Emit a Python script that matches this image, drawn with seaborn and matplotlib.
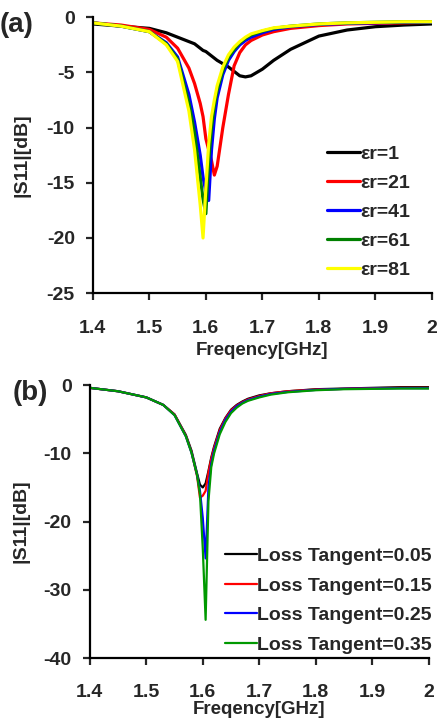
import numpy as np
import pandas as pd
import matplotlib
matplotlib.use('Agg')
import matplotlib.pyplot as plt
import seaborn as sns

# frequency grid (GHz) shared by all curves
freq = [1.40, 1.45, 1.50, 1.53, 1.55, 1.57, 1.58, 1.59, 1.595, 1.60, 1.605, 1.61, 1.615, 1.62,
        1.63, 1.64, 1.65, 1.66, 1.67, 1.68, 1.70, 1.72, 1.75, 1.80, 1.85, 1.90, 1.95, 2.00]

# panel (a): permittivity sweep
er_labels = ['εr=1', 'εr=21', 'εr=41', 'εr=61', 'εr=81']
s11_er1 = [-0.6, -0.8, -1.0, -1.4, -1.8, -2.2, -2.4, -2.8, -3.0, -3.1, -3.3, -3.5, -3.7, -3.9,
           -4.2, -4.5, -4.9, -5.3, -5.4, -5.3, -4.7, -3.9, -2.9, -1.7, -1.15, -0.85, -0.7, -0.6]
s11_er21 = [-0.5, -0.7, -1.1, -1.8, -2.8, -4.6, -6.0, -7.8, -9.0, -11.0, -12.0, -13.0, -14.3, -13.5,
            -10.0, -7.0, -4.4, -3.2, -2.5, -2.1, -1.6, -1.3, -1.0, -0.75, -0.6, -0.55, -0.5, -0.45]
s11_er41 = [-0.5, -0.8, -1.3, -2.3, -3.6, -7.0, -9.5, -12.5, -14.5, -15.8, -16.6, -12.0, -9.2, -7.3,
            -5.2, -3.9, -3.1, -2.5, -2.1, -1.8, -1.4, -1.1, -0.85, -0.65, -0.55, -0.5, -0.45, -0.45]
s11_er61 = [-0.5, -0.8, -1.3, -2.4, -3.8, -7.8, -10.5, -14.5, -16.5, -17.8, -13.0, -10.0, -8.0, -6.6,
            -4.8, -3.6, -2.9, -2.3, -1.9, -1.6, -1.25, -1.0, -0.8, -0.6, -0.5, -0.45, -0.4, -0.4]
s11_er81 = [-0.5, -0.8, -1.3, -2.5, -4.0, -8.5, -12.0, -17.0, -20.0, -15.5, -11.5, -9.0, -7.5, -6.2,
            -4.5, -3.4, -2.7, -2.2, -1.8, -1.5, -1.2, -0.95, -0.8, -0.6, -0.5, -0.45, -0.4, -0.4]

# panel (b): loss tangent sweep
lt_labels = ['Loss Tangent=0.05', 'Loss Tangent=0.15', 'Loss Tangent=0.25', 'Loss Tangent=0.35']
s11_lt05 = [-0.4, -0.9, -1.8, -2.9, -4.3, -7.3, -9.6, -13.0, -14.6, -15.0, -14.4, -12.6, -10.6, -9.0,
            -6.4, -4.8, -3.6, -2.9, -2.4, -2.0, -1.5, -1.2, -0.9, -0.6, -0.5, -0.4, -0.3, -0.3]
s11_lt15 = [-0.4, -0.9, -1.8, -2.9, -4.3, -7.4, -9.8, -13.4, -16.5, -16.2, -15.5, -12.8, -10.8, -9.2,
            -6.6, -4.9, -3.7, -3.0, -2.5, -2.1, -1.6, -1.2, -0.9, -0.65, -0.55, -0.45, -0.4, -0.4]
s11_lt25 = [-0.4, -0.9, -1.8, -2.9, -4.4, -7.5, -9.9, -13.2, -15.5, -19.5, -25.4, -15.0, -11.5, -9.6,
            -6.9, -5.1, -3.9, -3.1, -2.6, -2.2, -1.7, -1.3, -1.0, -0.7, -0.55, -0.5, -0.45, -0.45]
s11_lt35 = [-0.4, -0.9, -1.8, -2.9, -4.4, -7.5, -9.9, -13.2, -16.0, -24.0, -34.4, -17.0, -12.0, -10.0,
            -7.2, -5.4, -4.1, -3.3, -2.7, -2.3, -1.8, -1.4, -1.05, -0.75, -0.6, -0.55, -0.5, -0.5]

colors_a = ['black', '#ff0000', '#0000ff', '#008000', '#ffff00']
colors_b = ['black', '#ff0000', '#0000ff', '#009900']

xticks = [1.4, 1.5, 1.6, 1.7, 1.8, 1.9, 2.0]
xticklabels = ['1.4', '1.5', '1.6', '1.7', '1.8', '1.9', '2']

sns.set_style('ticks')
plt.rcParams['font.family'] = ['Liberation Sans', 'DejaVu Sans']
plt.rcParams['font.weight'] = 'bold'
plt.rcParams['axes.unicode_minus'] = False

fig = plt.figure(figsize=(4.38, 7.22), dpi=100)
ax1 = fig.add_axes([0.212, 0.594, 0.774, 0.382])
ax2 = fig.add_axes([0.205, 0.0886, 0.774, 0.378])


def style_axes(ax, yticks, ylim, xlab_y, ylab_x):
    ax.set_xlim(1.4, 2.0)
    ax.set_ylim(*ylim)
    ax.set_xticks(xticks)
    ax.set_xticklabels(xticklabels)
    ax.set_yticks(yticks)
    ax.set_yticklabels([str(t) for t in yticks])
    for s in ['top', 'right']:
        ax.spines[s].set_visible(False)
    for s in ['left', 'bottom']:
        ax.spines[s].set_linewidth(1.6)
        ax.spines[s].set_color('black')
    ax.tick_params(axis='x', direction='out', length=5, width=1.6, pad=14, labelsize=14)
    ax.tick_params(axis='y', direction='out', length=5, width=1.6, pad=8, labelsize=14)
    for lab in ax.get_xticklabels() + ax.get_yticklabels():
        lab.set_fontweight('bold')
    ax.set_xlabel('Freqency[GHz]', fontsize=13.5, fontweight='bold', va='center')
    ax.set_ylabel('|S11|[dB]', fontsize=14, fontweight='bold', va='center')
    ax.xaxis.set_label_coords(0.5, xlab_y)
    ax.yaxis.set_label_coords(ylab_x, 0.5)


series_a = [s11_er1, s11_er21, s11_er41, s11_er61, s11_er81]
for vals, lab, c in zip(series_a, er_labels, colors_a):
    sns.lineplot(x=freq, y=vals, ax=ax1, color=c, linewidth=2.3, label=lab, sort=False)
style_axes(ax1, [0, -5, -10, -15, -20, -25], (-25, 0), -0.207, -0.21)
leg = ax1.legend(loc='upper left', bbox_to_anchor=(0.69, 0.537), frameon=False, fontsize=14,
                 handlelength=1.7, handletextpad=0.0, labelspacing=0.59, borderaxespad=0, borderpad=0)
for t in leg.get_texts():
    t.set_fontweight('bold')

series_b = [s11_lt05, s11_lt15, s11_lt25, s11_lt35]
for vals, lab, c in zip(series_b, lt_labels, colors_b):
    sns.lineplot(x=freq, y=vals, ax=ax2, color=c, linewidth=1.6, label=lab, sort=False)
style_axes(ax2, [0, -10, -20, -30, -40], (-40, 0), -0.19, -0.204)
leg2 = ax2.legend(loc='upper left', bbox_to_anchor=(0.40, 0.405), frameon=False, fontsize=14,
                  handlelength=1.65, handletextpad=0.0, labelspacing=0.61, borderaxespad=0, borderpad=0)
for t in leg2.get_texts():
    t.set_fontweight('bold')

fig.text(0.0, 0.965, '(a)', fontsize=20, fontweight='bold', va='center', ha='left')
fig.text(0.028, 0.455, '(b)', fontsize=20, fontweight='bold', va='center', ha='left')

fig.savefig('out.png', dpi=100)
